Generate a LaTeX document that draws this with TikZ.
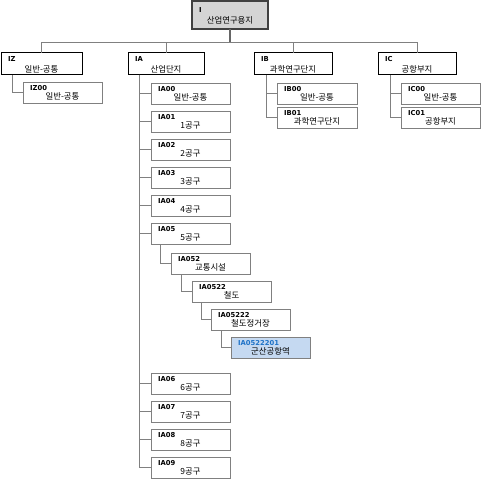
\documentclass[tikz,border=0pt]{standalone}
\usepackage{fontspec}
\setmainfont{Noto Sans CJK KR}
\newfontfamily\codefont{DejaVu Sans}
\usetikzlibrary{positioning,calc}
\definecolor{rootgray}{RGB}{212,212,212}
\definecolor{linegray}{RGB}{128,128,128}
\definecolor{selblue}{RGB}{197,217,241}
\definecolor{codeblue}{RGB}{31,115,200}
\tikzset{
	rootbox/.style={draw=black!75, line width=1.3pt, fill=rootgray, minimum width=76pt, minimum height=28pt, inner sep=0pt, outer sep=0pt},
	topbox/.style={draw, line width=1pt, minimum width=78pt, minimum height=22pt, inner sep=0pt, outer sep=0pt},
	subbox/.style={draw=linegray, line width=0.7pt, minimum width=79pt, minimum height=21.5pt, inner sep=0pt, outer sep=0pt},
	selbox/.style={subbox, fill=selblue},
	codetxt/.style={font=\codefont\bfseries\fontsize{6.8}{7}\selectfont, anchor=west, inner sep=0pt},
	nametxt/.style={font=\fontsize{8.4}{9}\selectfont, inner sep=0pt},
	conn/.style={draw=linegray, line width=0.8pt},
}
% box name, code, text, code offset, text offset
\newcommand{\cell}[5]{%
	\node[codetxt] (#1-c) at ($(#1.north west)+(7,#4)$) {#2};
	\node[nametxt] (#1-t) at ($(#1.north)+(0,#5)$) {#3};
}
\newcommand{\sub}[3]{\cell{#1}{#2}{#3}{6}{14.5}}

\begin{document}
\begin{tikzpicture}[x=1pt,y=-1pt]
	\useasboundingbox (0,0) rectangle (481,484);
	
	% ------------------- root -------------------
	\node[rootbox, anchor=north west] (root) at (192,1) {};
	\cell{root}{I}{산업연구용지}{9}{19.5}
	
	% ------------------- first level -------------------
	\node[topbox, minimum width=81pt, anchor=north west] (iz) at (1,53) {};
	\node[topbox, minimum width=76pt, anchor=north west] (ia) at (128,53) {};
	\node[topbox, anchor=north west] (ib) at (254,53) {};
	\node[topbox, anchor=north west] (ic) at (378,53) {};
	\cell{iz}{IZ}{일반-공통}{6.5}{16.5}
	\cell{ia}{IA}{산업단지}{6.5}{16.5}
	\cell{ib}{IB}{과학연구단지}{6.5}{16.5}
	\cell{ic}{IC}{공항부지}{6.5}{16.5}
	
	\draw[line width=1.5pt, black!60] (root.south) -- ++(0,13) coordinate (bus);
	\foreach \t in {iz,ia,ib,ic}
		\draw[conn] (bus) -| (\t.north);
	
	% ------------------- IZ -------------------
	\node[subbox, anchor=north west] (iz00) at (23,82) {};
	\sub{iz00}{IZ00}{일반-공통}
	\draw[conn] ($(iz.south west)+(11,0)$) |- (iz00.west);
	
	% ------------------- IB -------------------
	\node[subbox, minimum width=80pt, anchor=north west] (ib00) at (277,83) {};
	\node[subbox, minimum width=80pt, below=2.5pt of ib00] (ib01) {};
	\sub{ib00}{IB00}{일반-공통}
	\sub{ib01}{IB01}{과학연구단지}
	\foreach \c in {ib00,ib01}
		\draw[conn] ($(ib.south west)+(12,0)$) |- (\c.west);
	
	% ------------------- IC -------------------
	\node[subbox, anchor=north west] (ic00) at (401,83) {};
	\node[subbox, below=2.5pt of ic00] (ic01) {};
	\sub{ic00}{IC00}{일반-공통}
	\sub{ic01}{IC01}{공항부지}
	\foreach \c in {ic00,ic01}
		\draw[conn] ($(ic.south west)+(12,0)$) |- (\c.west);
	
	% ------------------- IA -------------------
	\node[subbox, anchor=north west] (ia00) at (151,83) {};
	\node[subbox, below=6.5pt of ia00] (ia01) {};
	\node[subbox, below=6.5pt of ia01] (ia02) {};
	\node[subbox, below=6.5pt of ia02] (ia03) {};
	\node[subbox, below=6.5pt of ia03] (ia04) {};
	\node[subbox, below=6.5pt of ia04] (ia05) {};
	\sub{ia00}{IA00}{일반-공통}
	\sub{ia01}{IA01}{1공구}
	\sub{ia02}{IA02}{2공구}
	\sub{ia03}{IA03}{3공구}
	\sub{ia04}{IA04}{4공구}
	\sub{ia05}{IA05}{5공구}
	
	\node[subbox, anchor=north west] (ia052) at (171,253) {};
	\node[subbox, anchor=north west] (ia0522) at (192,281) {};
	\node[subbox, anchor=north west] (ia05222) at (211,309) {};
	\node[selbox, anchor=north west] (ia0522201) at (231,337) {};
	\sub{ia052}{IA052}{교통시설}
	\sub{ia0522}{IA0522}{철도}
	\sub{ia05222}{IA05222}{철도정거장}
	\sub{ia0522201}{\textcolor{codeblue}{IA0522201}}{군산공항역}
	
	\draw[conn] ($(ia05.south west)+(9,0)$) |- (ia052.west);
	\draw[conn] ($(ia052.south west)+(10,0)$) |- (ia0522.west);
	\draw[conn] ($(ia0522.south west)+(9,0)$) |- (ia05222.west);
	\draw[conn] ($(ia05222.south west)+(10,0)$) |- (ia0522201.west);
	
	\node[subbox, anchor=north west] (ia06) at (151,373) {};
	\node[subbox, below=6.5pt of ia06] (ia07) {};
	\node[subbox, below=6.5pt of ia07] (ia08) {};
	\node[subbox, below=6.5pt of ia08] (ia09) {};
	\sub{ia06}{IA06}{6공구}
	\sub{ia07}{IA07}{7공구}
	\sub{ia08}{IA08}{8공구}
	\sub{ia09}{IA09}{9공구}
	
	\foreach \c in {ia00,ia01,ia02,ia03,ia04,ia05,ia06,ia07,ia08,ia09}
		\draw[conn] ($(ia.south west)+(11,0)$) |- (\c.west);
	
\end{tikzpicture}
\end{document}
